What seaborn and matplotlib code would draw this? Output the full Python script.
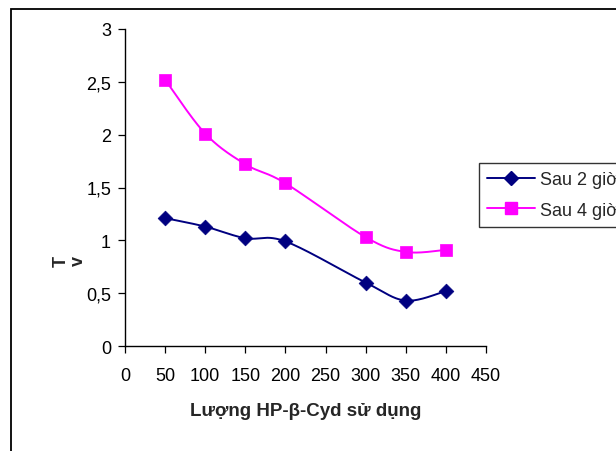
import numpy as np
import pandas as pd
import matplotlib
matplotlib.use("Agg")
import matplotlib.pyplot as plt
from matplotlib.lines import Line2D
from matplotlib.patches import Rectangle
import seaborn as sns

# ---- data ----
x_vals = [50, 100, 150, 200, 300, 350, 400]
sau2 = [1.21, 1.13, 1.02, 0.99, 0.60, 0.43, 0.52]
sau4 = [2.52, 2.01, 1.72, 1.54, 1.03, 0.89, 0.91]
series_names = ["Sau 2 giờ", "Sau 4 giờ"]
x_ticks = [0, 50, 100, 150, 200, 250, 300, 350, 400, 450]
y_ticks = [0, 0.5, 1, 1.5, 2, 2.5, 3]
y_tick_labels = ["0", "0,5", "1", "1,5", "2", "2,5", "3"]
x_label = "Lượng HP-β-Cyd sử dụng"
y_label = "Tv"

sns.set_style("white")
plt.rcParams["font.family"] = ["Liberation Sans", "DejaVu Sans"]


def smooth(xs, ys, n=30):
    # Catmull-Rom rendering of the line through the read points (display smoothing)
    P = np.column_stack([xs, ys]).astype(float)
    P = np.vstack([P[0], P, P[-1]])
    out = []
    t = np.linspace(0, 1, n)
    for i in range(1, len(P) - 2):
        p0, p1, p2, p3 = P[i - 1], P[i], P[i + 1], P[i + 2]
        tt = t[:, None]
        seg = 0.5 * ((2 * p1) + (-p0 + p2) * tt + (2 * p0 - 5 * p1 + 4 * p2 - p3) * tt ** 2
                     + (-p0 + 3 * p1 - 3 * p2 + p3) * tt ** 3)
        out.append(seg if i == 1 else seg[1:])
    out = np.vstack(out)
    return out[:, 0], out[:, 1]


fig = plt.figure(figsize=(6.16, 4.52), dpi=100)
ax = fig.add_axes([125 / 616, 1 - 347 / 452, (486 - 125) / 616, (347 - 30) / 452])

colors = ["#000080", "#FF00FF"]
markers = ["D", "s"]
msizes = [7.5, 8]
for name, ys, c, m, ms in zip(series_names, [sau2, sau4], colors, markers, msizes):
    sx, sy = smooth(x_vals, ys)
    sns.lineplot(x=sx, y=sy, ax=ax, color=c, lw=1.4, sort=False, legend=False)
    sns.scatterplot(x=x_vals, y=ys, ax=ax, color=c, marker=m, s=ms ** 2,
                    edgecolor=c, linewidth=0.5, legend=False, zorder=3)

ax.set_xlim(0, 450)
ax.set_ylim(0, 3)
ax.set_xticks(x_ticks)
ax.set_xticklabels([str(v) for v in x_ticks])
ax.set_yticks(y_ticks)
ax.set_yticklabels(y_tick_labels)
ax.tick_params(axis="both", direction="out", length=5, width=0.9, color="black",
               labelsize=13, labelcolor="black", bottom=True, left=True)
ax.tick_params(axis="x", pad=10)
ax.tick_params(axis="y", pad=5)
for s in ["top", "right"]:
    ax.spines[s].set_visible(False)
for s in ["left", "bottom"]:
    ax.spines[s].set_color("black")
    ax.spines[s].set_linewidth(1.0)

ax.set_xlabel(x_label, fontsize=13.5, fontweight="bold")
ax.xaxis.set_label_coords(0.5, -(412 - 347) / 317)
ax.xaxis.label.set_va("center")

# y-axis title: each letter turned on its side, laid out left to right (as in the reference)
ylab_y = 1 - 261.5 / 452
fig.text(70 / 616, ylab_y, y_label[0], rotation=90, fontsize=13, fontweight="bold",
         ha="right", va="center")
fig.text(70 / 616, ylab_y, y_label[1], rotation=90, fontsize=13, fontweight="bold",
         ha="left", va="center")

handles = [Line2D([0], [0], color=c, lw=1.4, marker=m, markersize=ms,
                  markerfacecolor=c, markeredgecolor=c)
           for c, m, ms in zip(colors, markers, msizes)]
leg = fig.legend(handles, series_names, loc="upper left",
                 bbox_to_anchor=(479 / 616, 1 - 164 / 452), frameon=True,
                 fontsize=13, handlelength=2.65, handletextpad=0.28,
                 borderpad=0.45, labelspacing=0.75,
                 fancybox=False, borderaxespad=0)
leg.get_frame().set_edgecolor("black")
leg.get_frame().set_linewidth(1.0)

# outer chart-area border (extends past the right/bottom image edge)
fig.patches.append(Rectangle((11 / 616, -0.1), 1.2, 1 - 10 / 452 + 0.1,
                             transform=fig.transFigure, fill=False,
                             edgecolor="black", linewidth=1.3))

fig.savefig("out.png", dpi=100)
